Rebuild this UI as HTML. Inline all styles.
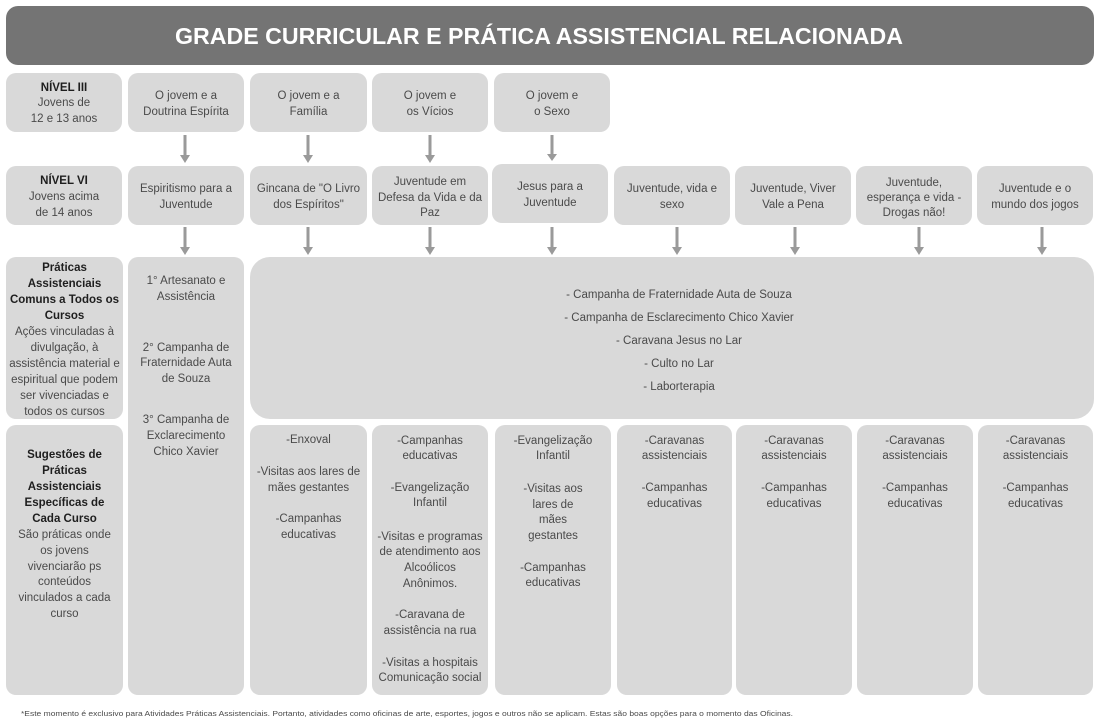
<!DOCTYPE html>
<html><head><meta charset="utf-8"><style>
html,body{margin:0;padding:0;background:#fff;}
svg{display:block;}
text{font-family:"Liberation Sans",Arial,sans-serif;}
.t{font-size:11.5px;fill:#4a4a4a;text-anchor:middle;}
.b{font-size:11.5px;fill:#1e1e1e;font-weight:bold;text-anchor:middle;}
.box{fill:#d9d9d9;}
.ar{stroke:#9a9a9a;stroke-width:3;}
.ah{fill:#9a9a9a;}
</style></head><body>
<svg width="1115" height="725" viewBox="0 0 1115 725" xmlns="http://www.w3.org/2000/svg">
<!-- header -->
<rect x="6" y="6" width="1088" height="59" rx="12" fill="#747474"/>
<text x="539" y="44" font-size="23" font-weight="bold" fill="#ffffff" text-anchor="middle" textLength="728" lengthAdjust="spacingAndGlyphs">GRADE CURRICULAR E PRÁTICA ASSISTENCIAL RELACIONADA</text>

<!-- row 1 -->
<rect class="box" x="6" y="73" width="116" height="59" rx="10"/>
<rect class="box" x="128" y="73" width="116" height="59" rx="10"/>
<rect class="box" x="250" y="73" width="117" height="59" rx="10"/>
<rect class="box" x="372" y="73" width="116" height="59" rx="10"/>
<rect class="box" x="494" y="73" width="116" height="59" rx="10"/>

<text class="b" x="64" y="91">NÍVEL III</text>
<text class="t" x="64" y="106">Jovens de</text>
<text class="t" x="64" y="122">12 e 13 anos</text>
<text class="t" x="186" y="99">O jovem e a</text>
<text class="t" x="186" y="115">Doutrina Espírita</text>
<text class="t" x="308.5" y="99">O jovem e a</text>
<text class="t" x="308.5" y="115">Família</text>
<text class="t" x="430" y="99">O jovem e</text>
<text class="t" x="430" y="115">os Vícios</text>
<text class="t" x="552" y="99">O jovem e</text>
<text class="t" x="552" y="115">o Sexo</text>

<!-- arrows row1->row2 -->
<g>
<line class="ar" x1="185" y1="135" x2="185" y2="156"/><polygon class="ah" points="180,155 190,155 185,163"/>
<line class="ar" x1="308" y1="135" x2="308" y2="156"/><polygon class="ah" points="303,155 313,155 308,163"/>
<line class="ar" x1="430" y1="135" x2="430" y2="156"/><polygon class="ah" points="425,155 435,155 430,163"/>
<line class="ar" x1="552" y1="135" x2="552" y2="155"/><polygon class="ah" points="547,154 557,154 552,161"/>
</g>

<!-- row 2 -->
<rect class="box" x="6" y="166" width="116" height="59" rx="10"/>
<rect class="box" x="128" y="166" width="116" height="59" rx="10"/>
<rect class="box" x="250" y="166" width="117" height="59" rx="10"/>
<rect class="box" x="372" y="166" width="116" height="59" rx="10"/>
<rect class="box" x="492" y="164" width="116" height="59" rx="10"/>
<rect class="box" x="614" y="166" width="116" height="59" rx="10"/>
<rect class="box" x="735" y="166" width="116" height="59" rx="10"/>
<rect class="box" x="856" y="166" width="116" height="59" rx="10"/>
<rect class="box" x="977" y="166" width="116" height="59" rx="10"/>

<text class="b" x="64" y="184">NÍVEL VI</text>
<text class="t" x="64" y="200">Jovens acima</text>
<text class="t" x="64" y="216">de 14 anos</text>
<text class="t" x="186" y="192">Espiritismo para a</text>
<text class="t" x="186" y="208">Juventude</text>
<text class="t" x="308.5" y="192">Gincana de "O Livro</text>
<text class="t" x="308.5" y="208">dos Espíritos"</text>
<text class="t" x="430" y="185">Juventude em</text>
<text class="t" x="430" y="201">Defesa da Vida e da</text>
<text class="t" x="430" y="216">Paz</text>
<text class="t" x="550" y="190">Jesus para a</text>
<text class="t" x="550" y="206">Juventude</text>
<text class="t" x="672" y="192">Juventude, vida e</text>
<text class="t" x="672" y="208">sexo</text>
<text class="t" x="793" y="192">Juventude, Viver</text>
<text class="t" x="793" y="208">Vale a Pena</text>
<text class="t" x="914" y="186">Juventude,</text>
<text class="t" x="914" y="201">esperança e vida -</text>
<text class="t" x="914" y="216">Drogas não!</text>
<text class="t" x="1035" y="192">Juventude e o</text>
<text class="t" x="1035" y="208">mundo dos jogos</text>

<!-- arrows row2->row3 -->
<g>
<line class="ar" x1="185" y1="227" x2="185" y2="248"/><polygon class="ah" points="180,247 190,247 185,255"/>
<line class="ar" x1="308" y1="227" x2="308" y2="248"/><polygon class="ah" points="303,247 313,247 308,255"/>
<line class="ar" x1="430" y1="227" x2="430" y2="248"/><polygon class="ah" points="425,247 435,247 430,255"/>
<line class="ar" x1="552" y1="227" x2="552" y2="248"/><polygon class="ah" points="547,247 557,247 552,255"/>
<line class="ar" x1="677" y1="227" x2="677" y2="248"/><polygon class="ah" points="672,247 682,247 677,255"/>
<line class="ar" x1="795" y1="227" x2="795" y2="248"/><polygon class="ah" points="790,247 800,247 795,255"/>
<line class="ar" x1="919" y1="227" x2="919" y2="248"/><polygon class="ah" points="914,247 924,247 919,255"/>
<line class="ar" x1="1042" y1="227" x2="1042" y2="248"/><polygon class="ah" points="1037,247 1047,247 1042,255"/>
</g>

<!-- row 3 -->
<rect class="box" x="6" y="257" width="117" height="162" rx="10"/>
<rect class="box" x="128" y="257" width="116" height="438" rx="10"/>
<rect class="box" x="250" y="257" width="844" height="162" rx="20"/>

<text class="b" x="64.5" y="271">Práticas</text>
<text class="b" x="64.5" y="287">Assistenciais</text>
<text class="b" x="64.5" y="303">Comuns a Todos os</text>
<text class="b" x="64.5" y="319">Cursos</text>
<text class="t" x="64.5" y="335">Ações vinculadas à</text>
<text class="t" x="64.5" y="351">divulgação, à</text>
<text class="t" x="64.5" y="367">assistência material e</text>
<text class="t" x="64.5" y="383">espiritual que podem</text>
<text class="t" x="64.5" y="399">ser vivenciadas e</text>
<text class="t" x="64.5" y="415">todos os cursos</text>

<text class="t" x="186" y="284">1° Artesanato e</text>
<text class="t" x="186" y="300">Assistência</text>
<text class="t" x="186" y="351">2° Campanha de</text>
<text class="t" x="186" y="366">Fraternidade Auta</text>
<text class="t" x="186" y="382">de Souza</text>
<text class="t" x="186" y="423">3° Campanha de</text>
<text class="t" x="186" y="439">Exclarecimento</text>
<text class="t" x="186" y="455">Chico Xavier</text>

<text class="t" x="679" y="298">- Campanha de Fraternidade Auta de Souza</text>
<text class="t" x="679" y="321">- Campanha de Esclarecimento Chico Xavier</text>
<text class="t" x="679" y="344">- Caravana Jesus no Lar</text>
<text class="t" x="679" y="367">- Culto no Lar</text>
<text class="t" x="679" y="390">- Laborterapia</text>

<!-- row 4 -->
<rect class="box" x="6" y="425" width="117" height="270" rx="10"/>
<rect class="box" x="250" y="425" width="117" height="270" rx="10"/>
<rect class="box" x="372" y="425" width="116" height="270" rx="10"/>
<rect class="box" x="495" y="425" width="116" height="270" rx="10"/>
<rect class="box" x="617" y="425" width="115" height="270" rx="10"/>
<rect class="box" x="736" y="425" width="116" height="270" rx="10"/>
<rect class="box" x="857" y="425" width="116" height="270" rx="10"/>
<rect class="box" x="978" y="425" width="115" height="270" rx="10"/>

<text class="b" x="64.5" y="458">Sugestões de</text>
<text class="b" x="64.5" y="474">Práticas</text>
<text class="b" x="64.5" y="490">Assistenciais</text>
<text class="b" x="64.5" y="506">Específicas de</text>
<text class="b" x="64.5" y="522">Cada Curso</text>
<text class="t" x="64.5" y="538">São práticas onde</text>
<text class="t" x="64.5" y="554">os jovens</text>
<text class="t" x="64.5" y="570">vivenciarão ps</text>
<text class="t" x="64.5" y="585">conteúdos</text>
<text class="t" x="64.5" y="601">vinculados a cada</text>
<text class="t" x="64.5" y="617">curso</text>

<text class="t" x="308.5" y="443">-Enxoval</text>
<text class="t" x="308.5" y="475">-Visitas aos lares de</text>
<text class="t" x="308.5" y="491">mães gestantes</text>
<text class="t" x="308.5" y="522">-Campanhas</text>
<text class="t" x="308.5" y="538">educativas</text>

<text class="t" x="430" y="444">-Campanhas</text>
<text class="t" x="430" y="459">educativas</text>
<text class="t" x="430" y="491">-Evangelização</text>
<text class="t" x="430" y="506">Infantil</text>
<text class="t" x="430" y="540">-Visitas e programas</text>
<text class="t" x="430" y="555">de atendimento aos</text>
<text class="t" x="430" y="571">Alcoólicos</text>
<text class="t" x="430" y="587">Anônimos.</text>
<text class="t" x="430" y="618">-Caravana de</text>
<text class="t" x="430" y="634">assistência na rua</text>
<text class="t" x="430" y="666">-Visitas a hospitais</text>
<text class="t" x="430" y="681">Comunicação social</text>

<text class="t" x="553" y="444">-Evangelização</text>
<text class="t" x="553" y="459">Infantil</text>
<text class="t" x="553" y="492">-Visitas aos</text>
<text class="t" x="553" y="508">lares de</text>
<text class="t" x="553" y="523">mães</text>
<text class="t" x="553" y="539">gestantes</text>
<text class="t" x="553" y="571">-Campanhas</text>
<text class="t" x="553" y="586">educativas</text>

<text class="t" x="674.5" y="444">-Caravanas</text>
<text class="t" x="674.5" y="459">assistenciais</text>
<text class="t" x="674.5" y="491">-Campanhas</text>
<text class="t" x="674.5" y="507">educativas</text>

<text class="t" x="794" y="444">-Caravanas</text>
<text class="t" x="794" y="459">assistenciais</text>
<text class="t" x="794" y="491">-Campanhas</text>
<text class="t" x="794" y="507">educativas</text>

<text class="t" x="915" y="444">-Caravanas</text>
<text class="t" x="915" y="459">assistenciais</text>
<text class="t" x="915" y="491">-Campanhas</text>
<text class="t" x="915" y="507">educativas</text>

<text class="t" x="1035.5" y="444">-Caravanas</text>
<text class="t" x="1035.5" y="459">assistenciais</text>
<text class="t" x="1035.5" y="491">-Campanhas</text>
<text class="t" x="1035.5" y="507">educativas</text>

<!-- footnote -->
<text x="21" y="716" font-size="7.5" fill="#4a4a4a" textLength="772" lengthAdjust="spacingAndGlyphs">*Este momento é exclusivo para Atividades Práticas Assistenciais. Portanto, atividades como oficinas de arte, esportes, jogos e outros não se aplicam. Estas são boas opções para o momento das Oficinas.</text>
</svg>
</body></html>
